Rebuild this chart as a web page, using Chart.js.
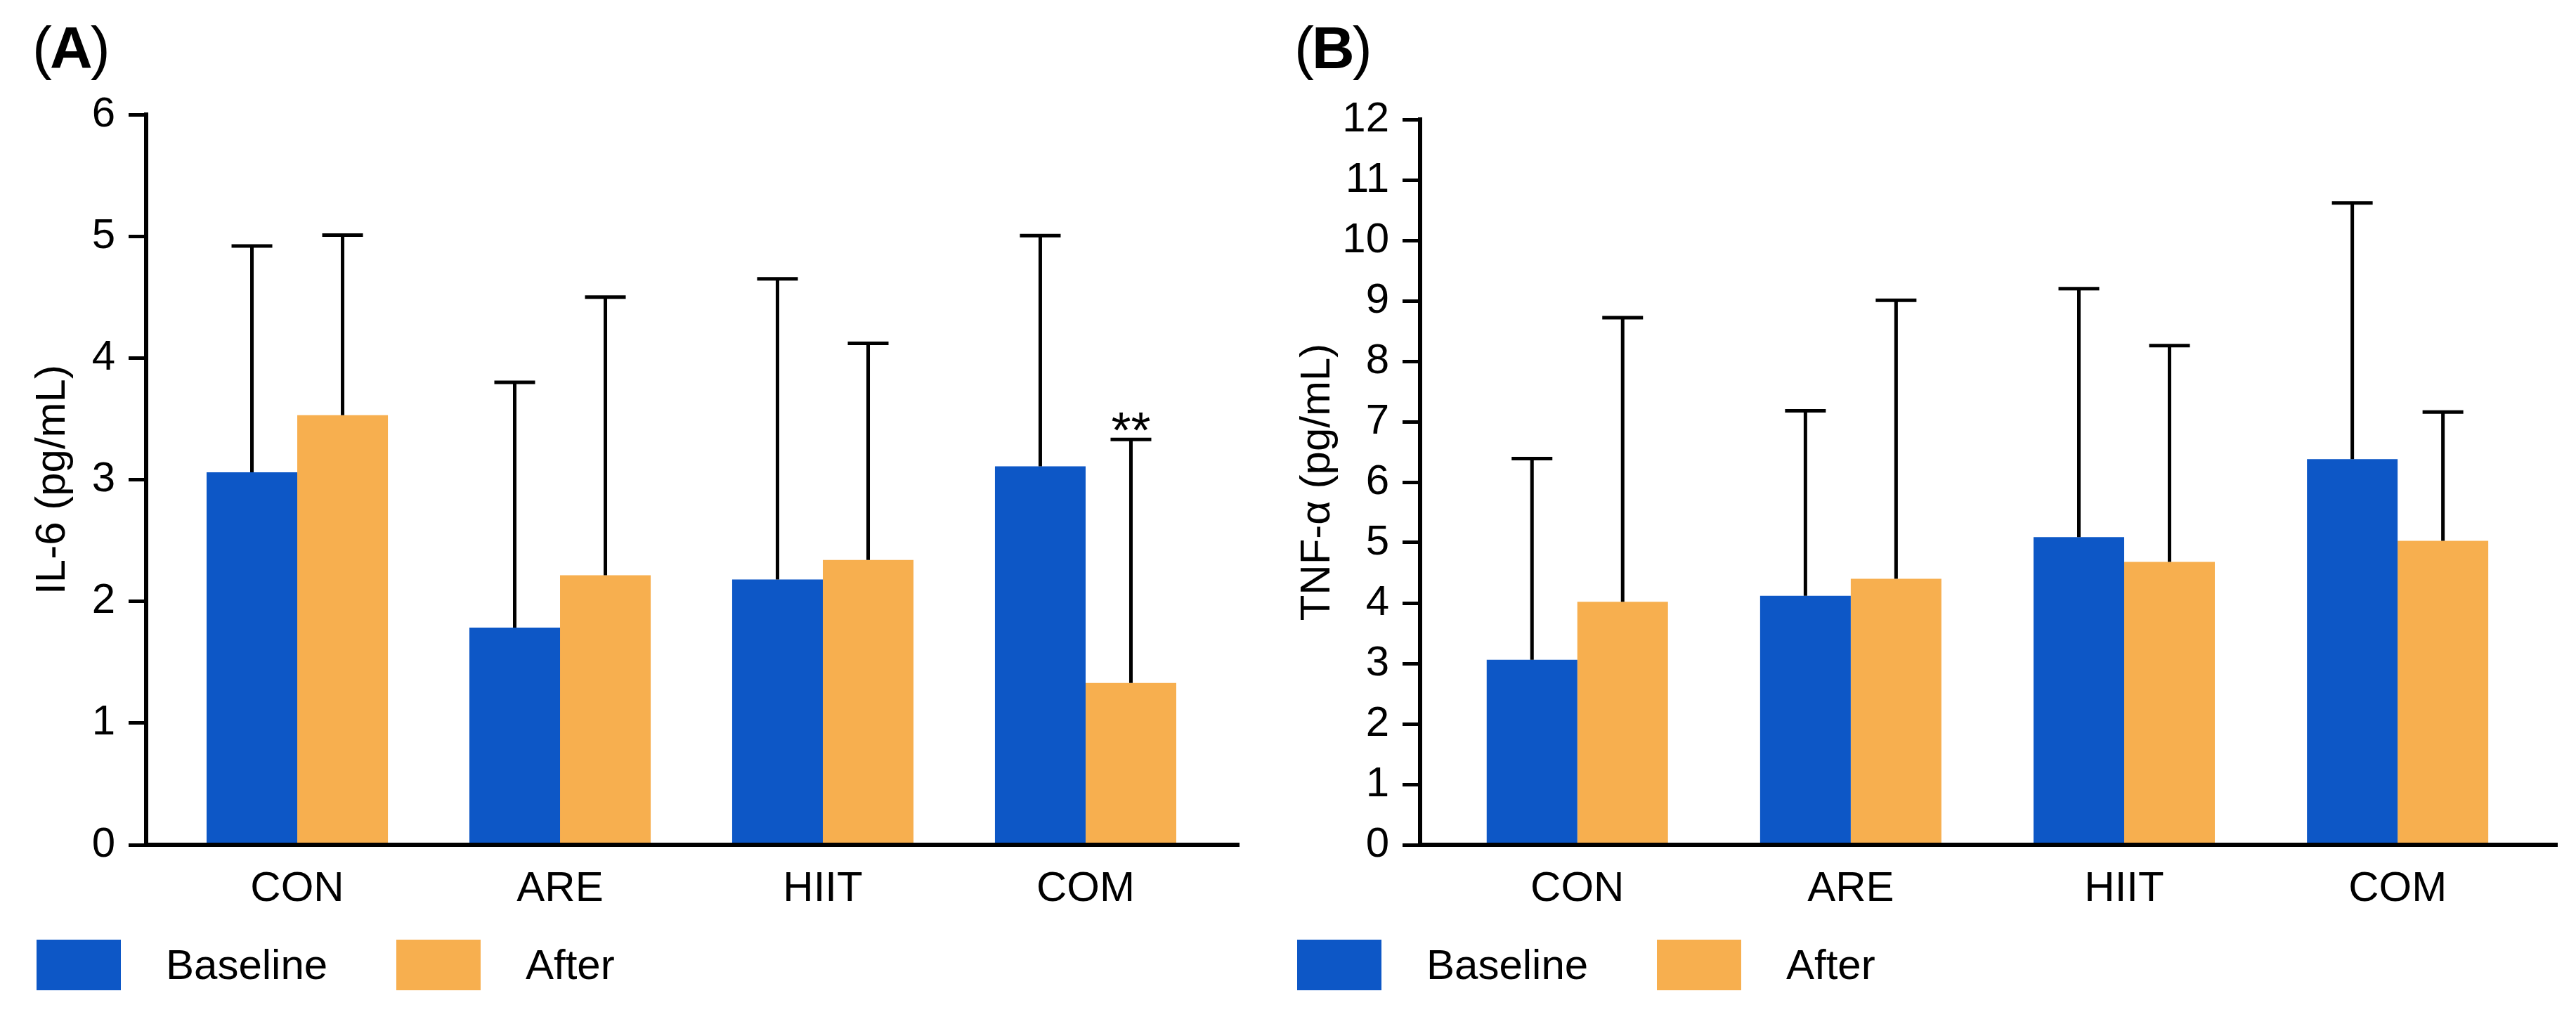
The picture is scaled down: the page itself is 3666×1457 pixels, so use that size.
<!DOCTYPE html>
<html>
<head>
<meta charset="utf-8">
<script src="https://cdn.jsdelivr.net/npm/chart.js@4"></script>
<style>
html,body{margin:0;padding:0;background:#fff;width:3666px;height:1457px;overflow:hidden;font-family:"Liberation Sans",Arial,sans-serif;}
.panel{position:absolute;top:0;height:1322px;}
.plabel{position:absolute;top:26px;font-size:84px;line-height:84px;color:#000;white-space:nowrap;letter-spacing:-3px;}
.plabel b{font-weight:bold;}
.legend{position:absolute;top:1337px;height:72px;display:flex;align-items:center;}
.item{display:flex;align-items:center;width:512px;}
.box{width:120px;height:72px;margin-right:64px;flex:none;}
.txt{font-size:60px;line-height:72px;color:#000;white-space:nowrap;}
</style>
</head>
<body>
<div class="plabel" style="left:46px">(<b>A</b>)</div>
<div class="plabel" style="left:1842px">(<b>B</b>)</div>
<div class="panel" id="wa" style="left:0;width:1800px"><canvas id="ca"></canvas></div>
<div class="panel" id="wb" style="left:1800px;width:1866px"><canvas id="cb"></canvas></div>
<div class="legend" id="la" style="left:52px"></div>
<div class="legend" id="lb" style="left:1846px"></div>
<script>
// ---- data ----
const categories = ['CON', 'ARE', 'HIIT', 'COM'];
const seriesNames = ['Baseline', 'After'];
const seriesColors = ['#0D57C6', '#F7AF4F'];

const il6Baseline = [3.06, 1.785, 2.18, 3.11];
const il6BaselineUpper = [4.92, 3.80, 4.65, 5.005];
const il6After = [3.53, 2.215, 2.34, 1.33];
const il6AfterUpper = [5.01, 4.50, 4.12, 3.33];
const il6Ticks = [0, 6];

const tnfBaseline = [3.06, 4.12, 5.09, 6.38];
const tnfBaselineUpper = [6.39, 7.18, 9.20, 10.62];
const tnfAfter = [4.02, 4.40, 4.68, 5.03];
const tnfAfterUpper = [8.72, 9.01, 8.26, 7.16];
const tnfTicks = [0, 12];

const il6Marks = [{dataset: 1, index: 3, text: '**'}];

// ---- chart ----
const FONT = "'Liberation Sans', Arial, sans-serif";
Chart.defaults.font.family = FONT;
Chart.defaults.color = '#000';

const errPlugin = {
  id: 'errbars',
  afterDatasetsDraw(chart, args, opts) {
    const ctx = chart.ctx, ys = chart.scales.y;
    ctx.save();
    ctx.strokeStyle = '#000';
    ctx.lineWidth = opts.lineWidth;
    ctx.lineCap = 'butt';
    chart.data.datasets.forEach((ds, di) => {
      const meta = chart.getDatasetMeta(di);
      meta.data.forEach((bar, i) => {
        const top = ys.getPixelForValue(opts.upper[di][i]);
        ctx.beginPath();
        ctx.moveTo(bar.x, bar.y);
        ctx.lineTo(bar.x, top);
        ctx.moveTo(bar.x - opts.capHalf, top);
        ctx.lineTo(bar.x + opts.capHalf, top);
        ctx.stroke();
      });
    });
    (opts.marks || []).forEach(m => {
      const bar = chart.getDatasetMeta(m.dataset).data[m.index];
      const top = ys.getPixelForValue(opts.upper[m.dataset][m.index]);
      ctx.fillStyle = '#000';
      ctx.font = '72px ' + FONT;
      ctx.textAlign = 'center';
      ctx.textBaseline = 'alphabetic';
      ctx.fillText(m.text, bar.x, top + 12);
    });
    ctx.restore();
  }
};

function makeChart(canvasId, cfg) {
  return new Chart(document.getElementById(canvasId), {
    type: 'bar',
    data: {
      datasets: cfg.series.map((vals, di) => ({
        label: seriesNames[di],
        data: categories.map((c, i) => ({x: i, y: vals[i]})),
        backgroundColor: seriesColors[di],
        borderWidth: 0,
        categoryPercentage: cfg.catPct,
        barPercentage: 1
      }))
    },
    options: {
      responsive: true,
      maintainAspectRatio: false,
      devicePixelRatio: 1,
      animation: false,
      layout: {padding: {top: cfg.padTop, right: cfg.padRight, left: 0, bottom: 0}},
      plugins: {
        legend: {display: false},
        tooltip: {enabled: false},
        errbars: {upper: cfg.upper, capHalf: 29, lineWidth: 5, marks: cfg.marks}
      },
      scales: {
        x: {
          type: 'linear',
          min: -0.575,
          max: 3.583,
          offset: false,
          afterBuildTicks: s => { s.ticks = categories.map((c, i) => ({value: i})); },
          afterFit: s => { s.height = 120; },
          grid: {display: false, drawTicks: false, offset: false},
          border: {display: true, color: '#000', width: 6, z: 1},
          ticks: {
            callback: v => categories[v],
            color: '#000',
            font: {size: 60, lineHeight: 1.2},
            padding: 27,
            autoSkip: false,
            maxRotation: 0
          }
        },
        y: {
          min: cfg.yTicks[0],
          max: cfg.yTicks[1],
          afterFit: s => { s.width = cfg.yWidth; },
          ticks: {stepSize: 1, color: '#000', font: {size: 60}, padding: 19},
          grid: {display: true, drawOnChartArea: false, drawTicks: true, tickLength: 25, lineWidth: 5, color: '#000'},
          border: {display: true, color: '#000', width: 6, z: 1},
          title: {display: true, text: cfg.title, color: '#000', font: {size: 60, lineHeight: 1.2}, padding: {top: 39, bottom: 0}}
        }
      }
    },
    plugins: [errPlugin]
  });
}

const chartA = makeChart('ca', {
  series: [il6Baseline, il6After],
  upper: [il6BaselineUpper, il6AfterUpper],
  marks: il6Marks,
  catPct: 0.69,
  padTop: 163, padRight: 37, yWidth: 208,
  yTicks: il6Ticks, title: 'IL-6 (pg/mL)'
});
const chartB = makeChart('cb', {
  series: [tnfBaseline, tnfAfter],
  upper: [tnfBaselineUpper, tnfAfterUpper],
  marks: [],
  catPct: 0.663,
  padTop: 170, padRight: 27, yWidth: 221,
  yTicks: tnfTicks, title: 'TNF-α (pg/mL)'
});

function buildLegend(chart, id) {
  const el = document.getElementById(id);
  chart.data.datasets.forEach(ds => {
    const item = document.createElement('div');
    item.className = 'item';
    const box = document.createElement('div');
    box.className = 'box';
    box.style.background = ds.backgroundColor;
    const txt = document.createElement('span');
    txt.className = 'txt';
    txt.textContent = ds.label;
    item.appendChild(box);
    item.appendChild(txt);
    el.appendChild(item);
  });
}
buildLegend(chartA, 'la');
buildLegend(chartB, 'lb');
</script>
</body>
</html>
